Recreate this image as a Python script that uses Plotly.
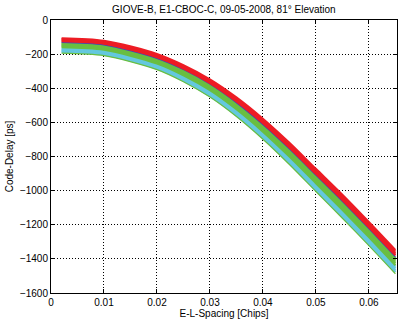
import plotly.graph_objects as go

# E-L spacing sample points [chips]
spacing = [0.002, 0.01, 0.02, 0.025, 0.03, 0.035, 0.04, 0.045, 0.05, 0.055, 0.06, 0.065]

# Code-delay curves [ps] per group
red_1 = [-106, -121, -198, -264, -347, -453, -578, -719, -872, -1024, -1184, -1348]
red_2 = [-111, -126, -204, -270, -354, -460, -586, -728, -881, -1033, -1193, -1357]
red_3 = [-116, -131, -209, -276, -360, -467, -594, -736, -889, -1042, -1202, -1366]
red_4 = [-121, -136, -215, -281, -366, -474, -601, -744, -897, -1050, -1210, -1375]
red_5 = [-125, -140, -219, -285, -370, -478, -605, -748, -902, -1055, -1215, -1380]
blue_1 = [-130, -145, -224, -290, -375, -484, -612, -755, -908, -1062, -1222, -1387]
green_1 = [-135, -150, -229, -296, -382, -491, -619, -763, -917, -1071, -1231, -1396]
green_2 = [-141, -156, -236, -303, -389, -499, -628, -772, -927, -1081, -1241, -1406]
green_3 = [-147, -162, -242, -310, -397, -507, -637, -782, -937, -1092, -1252, -1417]
green_4 = [-153, -168, -249, -317, -404, -515, -646, -791, -947, -1102, -1262, -1427]
green_5 = [-159, -174, -255, -324, -411, -523, -654, -800, -956, -1112, -1272, -1437]
cyan_1 = [-167, -182, -263, -332, -420, -531, -662, -808, -964, -1120, -1280, -1446]
cyan_2 = [-174, -189, -270, -339, -428, -540, -672, -819, -975, -1131, -1291, -1457]
cyan_3 = [-181, -196, -278, -347, -437, -549, -681, -829, -985, -1142, -1302, -1468]
cyan_4 = [-188, -203, -285, -355, -445, -558, -691, -839, -996, -1153, -1313, -1478]
green_bottom = [-194, -209, -291, -362, -452, -566, -699, -847, -1005, -1162, -1322, -1487]

y_ticks = [0, -200, -400, -600, -800, -1000, -1200, -1400, -1600]
x_ticks = [0, 0.01, 0.02, 0.03, 0.04, 0.05, 0.06]
x_tick_text = ["0", "0.01", "0.02", "0.03", "0.04", "0.05", "0.06"]

RED = "rgb(237,28,36)"
BLUE = "rgb(60,70,190)"
GREEN = "rgb(105,190,65)"
CYAN = "rgb(100,200,222)"

groups = [
    ([cyan_1, cyan_2, cyan_3, cyan_4], CYAN, 2.4),
    ([green_bottom], GREEN, 1.2),
    ([green_1, green_2, green_3, green_4, green_5], GREEN, 2.2),
    ([blue_1], BLUE, 1.4),
    ([red_5, red_4, red_3, red_2, red_1], RED, 1.9),
]

fig = go.Figure()
for series_list, color, w in groups:
    for ys in series_list:
        fig.add_trace(go.Scatter(
            x=spacing, y=ys, mode="lines",
            line=dict(color=color, width=w, shape="spline", smoothing=0.8),
            showlegend=False, hoverinfo="skip",
        ))

axis_common = dict(
    showline=True, linecolor="black", linewidth=1, mirror="ticks",
    ticks="inside", ticklen=4, tickcolor="black",
    showgrid=True, gridcolor="black", gridwidth=1, griddash="1px,2px",
    zeroline=False,
    tickfont=dict(family="Liberation Sans, Arial", size=10, color="black"),
)

fig.update_layout(
    width=398, height=326,
    margin=dict(l=51, r=1, t=20, b=33),
    paper_bgcolor="white", plot_bgcolor="white",
    title=dict(text="GIOVE-B, E1-CBOC-C, 09-05-2008, 81° Elevation",
               x=0.5625, xanchor="center", y=0.97, yanchor="middle",
               font=dict(family="Liberation Sans, Arial", size=10, color="black")),
    xaxis=dict(range=[0, 0.0653], tickvals=x_ticks, ticktext=x_tick_text,
               title=dict(text="E-L-Spacing [Chips]", standoff=2,
                          font=dict(family="Liberation Sans, Arial", size=10, color="black")),
               **axis_common),
    yaxis=dict(range=[-1600, 0], tickvals=y_ticks,
               title=dict(text="Code-Delay [ps]", standoff=4,
                          font=dict(family="Liberation Sans, Arial", size=10, color="black")),
               **axis_common),
)

fig.write_html("out.html")
